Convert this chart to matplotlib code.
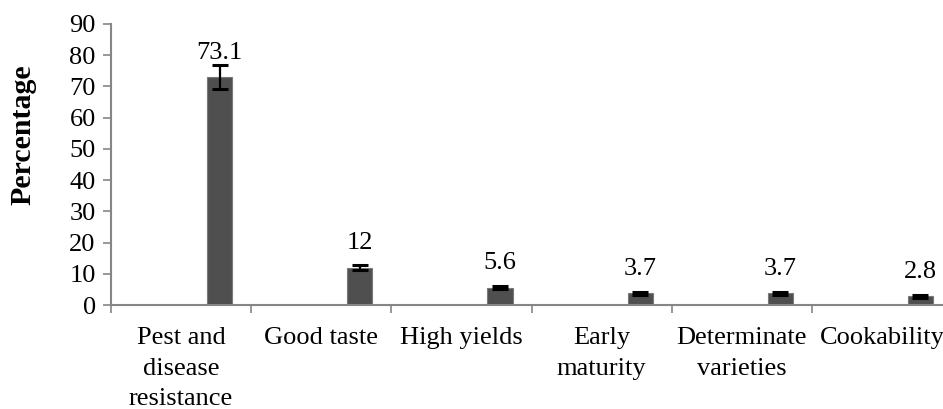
import matplotlib
matplotlib.use('Agg')
import matplotlib.pyplot as plt
import numpy as np

# Data
categories = ['Pest and\ndisease\nresistance', 'Good taste', 'High yields',
              'Early\nmaturity', 'Determinate\nvarieties', 'Cookability']
values = [73.1, 12, 5.6, 3.7, 3.7, 2.8]
errors = [3.8, 0.8, 0.4, 0.4, 0.4, 0.4]
yticks = [0, 10, 20, 30, 40, 50, 60, 70, 80, 90]

plt.rcParams['font.family'] = ['Liberation Serif', 'DejaVu Serif']
GRAY = '#868686'
FS = 19

fig = plt.figure(figsize=(9.43, 4.09), dpi=100)
# axis runs slightly past the right edge of the figure
ax = fig.add_axes([111 / 943, 1 - 305 / 409, (952 - 111) / 943, 281 / 409])

x = np.arange(len(categories))
bar_x = x + 0.775
ax.bar(bar_x, values, width=0.18, color='#4f4f4f', edgecolor='#7a7a7a', linewidth=0.8, zorder=2)
ax.errorbar(bar_x, values, yerr=errors, fmt='none', ecolor='black',
            elinewidth=1.6, capsize=6, capthick=2.2, zorder=3)

for bx, v in zip(bar_x, values):
    ax.annotate(f'{v:g}', (bx, v), xytext=(0, 9.5), textcoords='offset points',
                ha='center', va='bottom', fontsize=FS)

ax.set_xlim(0, len(categories))
ax.set_ylim(0, 90)
ax.set_yticks(yticks)
ax.set_yticklabels([str(t) for t in yticks], fontsize=FS)

# category labels centred in each slot, ticks on the boundaries
ax.set_xticks(np.arange(len(categories) + 1))
ax.set_xticklabels([])
ax.set_xticks(x + 0.5, minor=True)
ax.set_xticklabels(categories, minor=True, fontsize=FS, linespacing=1.5, va='top')
ax.tick_params(axis='x', which='minor', length=0, pad=16)
ax.tick_params(axis='x', which='major', length=6, color=GRAY, width=1.2)
ax.tick_params(axis='y', length=6, color=GRAY, width=1.2, pad=5)

for side in ['top', 'right']:
    ax.spines[side].set_visible(False)
for side in ['left', 'bottom']:
    ax.spines[side].set_color(GRAY)
    ax.spines[side].set_linewidth(1.5)

fig.text(23 / 943, 1 - 135 / 409, 'Percentage', rotation=90, ha='center', va='center',
         fontsize=21.5, fontweight='bold')

fig.savefig('out.png', dpi=100)
